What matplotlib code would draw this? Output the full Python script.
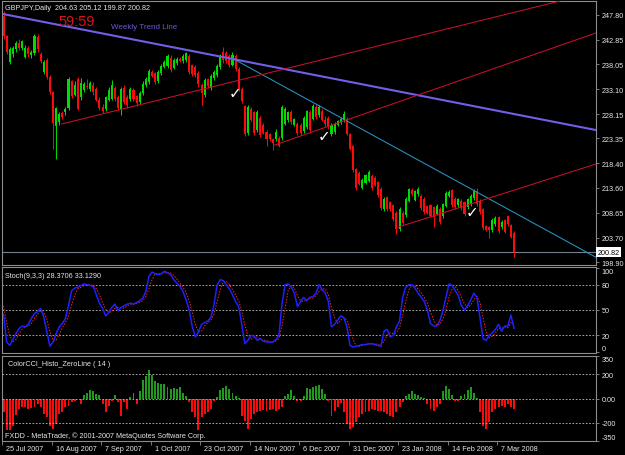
import matplotlib
matplotlib.use("Agg")
import matplotlib.pyplot as plt
import numpy as np
from matplotlib.transforms import blended_transform_factory as btf

plt.rcParams['font.family'] = ['Liberation Sans', 'DejaVu Sans']

# ---------------- data ----------------
opens = [247.6,243.5,238.5,240.0,241.0,242.2,241.3,239.5,241.2,239.8,
         240.2,243.4,240.0,236.5,238.8,235.4,232.5,225.9,226.5,228.3,
         228.6,229.3,234.6,232.0,235.1,231.6,233.0,233.8,233.2,234.0,
         233.2,231.0,229.5,229.2,231.0,231.2,233.3,231.6,229.2,233.4,
         231.6,231.2,233.0,231.7,230.5,232.3,234.0,234.5,236.4,236.2,
         234.6,236.2,237.5,237.6,239.3,237.2,238.2,239.0,238.6,238.8,
         239.7,237.8,237.5,236.3,234.0,232.0,235.0,233.3,235.2,235.8,
         237.4,240.4,240.2,239.6,237.9,239.6,237.0,233.2,229.8,224.4,
         229.2,228.5,225.0,227.4,226.1,224.6,224.2,223.2,223.2,223.5,
         223.4,226.2,226.9,228.5,226.1,226.2,226.0,224.8,225.6,228.6,
         227.2,229.6,227.9,228.8,227.0,227.4,224.2,224.6,226.0,226.5,
         226.9,227.2,224.2,221.9,217.3,216.6,213.6,214.6,215.0,216.0,
         215.6,214.7,213.4,209.4,211.7,210.7,210.1,208.7,205.4,208.7,
         208.2,211.0,213.2,211.2,212.3,212.0,211.4,209.9,210.1,209.7,
         208.5,209.4,208.0,210.0,212.0,213.1,211.4,210.1,211.0,210.7,
         209.7,210.3,211.5,213.0,211.0,209.3,206.0,205.8,205.2,206.4,
         207.8,205.8,207.2,208.0,206.2,204.63]
highs = [248.6,243.8,241.4,241.6,242.6,243.0,242.9,241.8,241.6,240.9,
         244.0,243.9,240.4,238.9,239.2,235.8,232.8,229.6,228.6,228.8,
         229.6,235.4,234.9,234.6,235.5,235.3,234.5,235.0,234.6,234.5,
         233.5,231.5,230.1,231.8,233.5,234.8,233.8,232.0,233.6,234.0,
         232.0,233.5,233.4,232.0,232.8,234.6,235.4,237.0,236.8,236.5,
         236.9,238.0,238.8,240.0,239.8,239.3,239.4,239.5,240.0,240.5,
         240.1,238.1,237.8,236.6,234.3,235.2,235.3,236.0,236.8,238.0,
         240.0,241.4,240.6,240.0,240.4,240.0,237.4,233.5,230.0,230.0,
         229.5,228.8,228.9,227.8,226.4,225.0,224.5,223.5,225.2,223.8,
         229.9,229.5,228.8,228.9,227.4,226.5,226.3,227.8,229.0,229.0,
         230.1,229.9,229.9,229.1,227.8,227.8,226.4,226.5,227.0,227.5,
         228.7,227.5,224.4,222.1,217.6,216.9,215.5,216.4,217.1,216.3,
         216.0,215.0,213.7,211.7,212.0,211.0,210.4,209.0,209.7,209.0,
         211.8,213.6,213.5,213.2,213.7,212.3,211.7,210.2,210.4,210.0,
         210.4,209.7,210.6,213.0,213.1,213.4,211.7,211.6,211.3,211.0,
         211.6,212.3,213.4,213.5,211.3,209.6,206.3,206.1,207.6,208.0,
         208.1,207.3,207.5,208.3,206.5,205.12]
lows = [243.0,240.0,238.0,239.5,240.5,240.8,240.9,239.2,239.5,239.3,
        239.9,240.5,238.3,236.0,235.0,232.1,221.2,219.2,226.0,227.2,
        228.0,229.0,231.4,231.7,228.9,231.0,232.5,233.2,232.8,232.0,
        230.7,229.0,228.3,228.8,230.7,230.9,230.7,229.0,228.0,230.1,
        229.4,230.8,230.8,229.8,230.2,232.0,233.5,234.2,235.4,234.1,
        234.3,235.9,237.2,237.3,236.5,237.0,237.9,238.4,238.3,238.5,
        236.0,235.6,235.5,233.6,230.0,231.6,233.4,233.0,234.9,235.5,
        237.0,238.3,238.2,237.4,237.6,236.6,232.8,230.3,223.8,224.0,
        226.7,224.0,224.6,223.6,224.2,221.9,222.8,221.0,222.8,221.6,
        223.0,226.0,226.5,226.2,225.9,224.0,224.1,224.5,225.2,224.5,
        226.9,227.2,227.6,226.7,225.8,225.3,223.9,224.3,225.8,226.2,
        226.6,224.0,221.0,216.8,213.2,214.1,213.3,214.3,214.7,213.2,
        213.9,211.8,209.2,209.1,209.1,209.1,207.1,204.5,205.0,206.3,
        207.8,210.7,212.0,210.9,212.0,209.2,208.4,208.4,207.8,205.8,
        208.2,206.5,207.6,209.7,211.7,209.8,209.4,209.8,209.2,208.0,
        209.4,210.0,211.2,210.0,208.4,205.2,205.0,203.6,204.9,206.1,
        204.6,205.5,204.6,206.1,203.6,199.87]
closes = [243.5,240.5,241.0,241.2,242.3,241.3,242.6,241.3,240.0,240.5,
          243.6,241.0,238.7,238.5,235.4,232.5,226.4,229.3,228.2,227.6,
          229.2,235.0,231.8,234.0,229.2,234.4,234.1,233.5,234.3,232.6,
          231.0,229.4,228.8,231.5,233.0,234.0,231.1,229.4,233.2,230.5,
          229.9,233.2,231.2,230.3,232.4,234.2,235.0,236.6,235.7,234.5,
          236.4,237.7,238.4,239.6,236.9,238.9,239.1,238.6,239.7,240.2,
          236.4,236.0,235.8,234.1,232.3,234.8,233.7,235.6,236.5,237.6,
          239.6,238.8,238.6,237.9,239.9,237.0,233.2,230.8,224.3,229.6,
          227.0,224.4,228.6,224.0,224.5,223.2,223.2,222.5,224.7,221.9,
          229.5,229.2,228.5,226.6,227.1,224.4,224.4,227.4,228.7,225.0,
          229.8,227.5,229.6,227.0,226.2,225.8,226.1,226.2,226.8,227.2,
          228.2,224.2,221.3,217.1,213.6,214.4,215.2,216.1,216.7,213.5,
          214.2,212.2,209.5,211.4,209.4,209.4,207.4,205.4,209.4,206.6,
          211.4,213.3,212.3,212.9,213.4,209.6,208.8,208.7,208.1,207.8,
          210.0,206.8,210.4,212.6,212.8,210.1,209.8,211.4,209.5,208.4,
          211.3,212.0,212.9,210.4,208.8,205.6,205.3,205.3,207.3,207.6,
          205.0,206.9,204.8,206.4,203.8,200.82]

stoch_main = [45,12,8,15,22,28,31,30,33,40,
              46,48,52,42,24,7,12,22,30,34,
              40,55,73,76,77,79,81,80,79,78,
              68,58,52,43,47,53,57,49,53,55,
              57,58,57,59,61,64,72,90,95,93,
              92,93,96,94,92,86,82,78,72,62,
              50,30,18,24,33,35,37,41,56,79,
              86,85,80,75,68,60,54,33,10,14,
              20,19,14,16,13,12,12,12,15,20,
              57,80,81,77,70,54,60,65,61,65,
              66,70,80,74,70,60,30,33,38,43,
              41,30,8,6,7,8,9,9,10,10,
              9,8,7,25,27,18,20,30,37,65,
              77,80,80,76,70,65,60,50,34,31,
              31,37,49,65,81,79,73,67,55,50,
              55,62,70,65,41,16,14,20,23,27,
              33,25,31,31,44,28.37]
stoch_signal = [55,35,20,12,15,22,27,30,31,34,
                40,45,49,47,39,24,14,14,21,29,
                35,43,56,68,75,77,79,80,80,79,
                75,68,59,51,47,48,52,53,53,52,
                55,57,57,58,59,61,66,75,86,93,
                93,93,94,94,94,91,87,82,77,71,
                61,47,33,24,25,31,35,38,45,59,
                74,83,84,80,74,68,61,49,32,19,
                15,18,18,16,14,14,12,12,13,16,
                31,52,73,79,76,67,61,60,62,64,
                64,67,72,75,75,68,53,41,34,38,
                41,38,26,15,7,7,8,9,9,10,
                10,9,8,13,20,23,22,23,29,44,
                60,74,79,79,75,70,65,58,48,38,
                32,33,39,50,65,75,78,73,65,57,
                53,56,62,66,59,41,24,17,19,23,
                28,28,30,29,35,33.13]
cci = [-115,-265,-265,-225,-140,-88,-74,-74,-88,-80,-74,-47,-74,-129,-156,-225,-252,-211,-129,-115,-74,-60,-33,-19,-5,-47,
       30,49,68,63,41,30,-47,-115,-60,-19,30,-33,-142,-33,
       -88,14,49,-47,63,151,186,233,195,145,132,123,118,96,77,90,77,96,49,22,-33,-115,-156,-265,-156,-129,-115,-88,-19,14,
       68,90,104,77,49,22,8,-142,-184,-252,-170,-129,-115,-107,-96,-101,-96,-88,-101,-88,-74,22,41,68,22,
       -19,-19,22,90,77,96,104,112,77,36,-19,-142,-101,-68,-41,
       -115,-211,-252,-238,-197,-156,-129,-115,-101,-88,-96,-107,-107,-115,-129,-142,-156,-115,-74,-33,22,41,63,41,30,14,3,
       -47,-88,-101,-74,-47,63,104,77,30,-19,-19,22,36,68,96,49,8,-115,-225,-252,-197,-115,-88,-74,-60,-68,-47,-74,-88]

price_ticks = [247.80, 242.85, 238.05, 233.10, 228.15, 223.35, 218.40, 213.60, 208.65, 203.70, 198.90]
date_bars = [0, 16, 32, 48, 64, 80, 96, 112, 128, 144, 160]
date_labels = ['25 Jul 2007', '16 Aug 2007', '7 Sep 2007', '1 Oct 2007', '23 Oct 2007', '14 Nov 2007',
               '6 Dec 2007', '31 Dec 2007', '23 Jan 2008', '14 Feb 2008', '7 Mar 2008']

# trend lines: (bar indices, prices)
weekly_line = ([-0.16, 191.5], [247.94, 225.0])
cyan_line = ([75.4, 191.5], [238.7, 199.85])
red_lines = [([18.8, 179.8], [226.2, 250.5]),
             ([87.7, 191.5], [222.05, 244.2]),
             ([127.5, 191.5], [205.8, 218.3])]
checks = [(74.8, 232.5), (103.6, 223.9), (151.4, 208.9)]
last_price = 200.82

# ---------------- figure ----------------
W, H = 625, 456
fig = plt.figure(figsize=(W / 100, H / 100), dpi=100, facecolor='black')

def ax_at(x0, y0, x1, y1):
    return fig.add_axes([x0 / W, 1 - y1 / H, (x1 - x0) / W, (y1 - y0) / H])

TXT = '#e6e6e6'
GRAY = '#8c8c8c'
GREEN = '#00dc00'
RED = '#ff0a0a'
FS = 5.2

ax1 = ax_at(2, 2, 596, 266)
ax2 = ax_at(2, 268, 596, 354)
ax3 = ax_at(2, 357, 596, 442)
for ax in (ax1, ax2, ax3):
    ax.set_facecolor('black')
    ax.set_xlim(-0.5, 191.5)
    for s in ax.spines.values():
        s.set_color(GRAY)
        s.set_linewidth(0.8)
    ax.yaxis.tick_right()
    ax.tick_params(axis='y', colors=GRAY, labelcolor=TXT, labelsize=FS, length=2.5, width=0.6, pad=1.5)
    ax.tick_params(axis='x', length=0, labelbottom=False)

# ---- main price panel ----
x = np.arange(len(closes))
O = np.array(opens); Hh = np.array(highs); L = np.array(lows); C = np.array(closes)
cols = np.where(C >= O, GREEN, RED)
ax1.axhline(last_price, color='#6f8090', lw=0.8, zorder=1)
ax1.vlines(x, L, Hh, colors=cols, lw=0.7, zorder=2)
ax1.bar(x, np.maximum(np.abs(C - O), 0.12), bottom=np.minimum(O, C), width=0.66, color=cols, lw=0, zorder=3)
ax1.set_ylim(198.33, 250.51)
ax1.set_yticks(price_ticks)
ax1.set_yticklabels(['%.2f' % p for p in price_ticks])

ax1.plot(*weekly_line, color='#7060e8', lw=1.5, zorder=4, solid_capstyle='butt')
ax1.plot(*cyan_line, color='#2a94c4', lw=0.75, zorder=4)
for xs, ys in red_lines:
    ax1.plot(xs, ys, color='#c8102e', lw=0.75, zorder=4)
for cx, cy in checks:
    ax1.text(cx, cy, '\u2713', color='white', fontsize=11, fontweight='bold', ha='center', va='center',
             family=['DejaVu Sans'], zorder=5)

ax1.text(1.003, last_price, '200.82', transform=btf(ax1.transAxes, ax1.transData), va='center', ha='left',
         fontsize=FS, color='black', bbox=dict(boxstyle='square,pad=0.2', fc='white', ec='none'), zorder=6,
         clip_on=False)

fig.text(5 / W, 1 - 8.5 / H, 'GBPJPY,Daily  204.63 205.12 199.87 200.82', color=TXT, fontsize=FS, va='center', ha='left')
fig.text(77 / W, 1 - 22 / H, '59:59', color='#d8141c', fontsize=10.5, va='center', ha='center')
fig.text(111 / W, 1 - 27.5 / H, 'Weekly Trend Line', color='#6a5ad0', fontsize=5.8, va='center', ha='left')

# ---- stochastic panel ----
ax2.axhline(80, color='#bdbdbd', lw=0.6, ls=(0, (2, 2)))
ax2.axhline(50, color='#bdbdbd', lw=0.6, ls=(0, (2, 2)))
ax2.axhline(20, color='#bdbdbd', lw=0.6, ls=(0, (2, 2)))
ax2.plot(x, stoch_signal, color='#ff2020', lw=0.7, ls=(0, (1.5, 1.5)))
ax2.plot(x, stoch_main, color='#2020ff', lw=1.1)
ax2.set_ylim(-1, 101)
ax2.set_yticks([100, 80, 50, 20, 0])
ax2.set_yticklabels(['100', '80', '50', '20', '0'])
fig.text(5 / W, 1 - 276 / H, 'Stoch(9,3,3) 28.3706 33.1290', color=TXT, fontsize=FS, va='center', ha='left')

# ---- CCI panel ----
cci_a = np.array(cci)
ax3.bar(x, cci_a, width=0.62, color=np.where(cci_a >= 0, '#1f9a1f', RED), lw=0, zorder=2)
for lv in (200, 0, -200):
    ax3.axhline(lv, color='#bdbdbd', lw=0.6, ls=(0, (2, 2)), zorder=3)
ax3.set_ylim(-352, 352)
ax3.set_yticks([350, 200, 0, -200, -350])
ax3.set_yticklabels(['350', '200', '0.00', '-200', '-350'])
fig.text(8 / W, 1 - 365 / H, 'ColorCCI_Histo_ZeroLine ( 14 )', color=TXT, fontsize=FS, va='center', ha='left')
fig.text(5 / W, 1 - 436 / H, 'FXDD - MetaTrader, \u00a9 2001-2007 MetaQuotes Software Corp.', color=TXT,
         fontsize=FS, va='center', ha='left')

fig.canvas.draw()
for ax in (ax2, ax3):
    labs = ax.get_yticklabels()
    labs[0].set_verticalalignment('top')
    labs[-1].set_verticalalignment('bottom')

# date axis
tick_pos = [b - 0.5 for b in date_bars]
ax3.set_xticks(tick_pos)
ax3.tick_params(axis='x', length=3, width=0.6, color=GRAY, direction='out', labelbottom=False)
tr = btf(ax3.transData, ax3.transAxes)
for tp, lab in zip(tick_pos, date_labels):
    ax3.text(tp + 1.3, -0.085, lab, transform=tr, color=TXT, fontsize=FS, va='center', ha='left', clip_on=False)

fig.savefig('out.png', dpi=100, facecolor='black')
